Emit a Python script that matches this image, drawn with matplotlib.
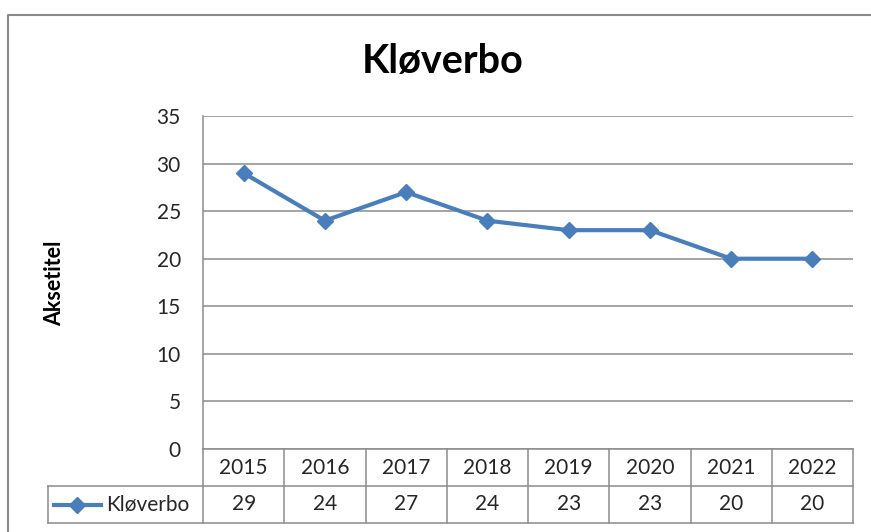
import matplotlib
matplotlib.use("Agg")
import matplotlib.pyplot as plt
from matplotlib.lines import Line2D

plt.rcParams['font.family'] = ['Lato', 'DejaVu Sans']

title = "Kløverbo"
series_name = "Kløverbo"
y_label = "Aksetitel"
years = ["2015", "2016", "2017", "2018", "2019", "2020", "2021", "2022"]
values = [29, 24, 27, 24, 23, 23, 20, 20]
y_ticks = [0, 5, 10, 15, 20, 25, 30, 35]

W, H = 871, 532
LINE = '#4A7EBB'
GRID = '#8C8C8C'
TXT = '#262626'
FS = 15

fig = plt.figure(figsize=(W / 100, H / 100), dpi=100)
fig.patch.set_facecolor('white')

def fx(x):
    return x / W

def fy(y):
    return 1 - y / H

# outer chart border
fig.add_artist(Line2D([fx(8), fx(8), fx(W + 5)], [fy(H + 5), fy(15), fy(15)],
                      color='#8A8A8A', lw=1.5, transform=fig.transFigure))

left, top, right, bottom = 203, 116, 853, 449
ax = fig.add_axes([fx(left), fy(bottom), (right - left) / W, (bottom - top) / H])
n = len(years)
xs = [i + 0.5 for i in range(n)]
ax.set_xlim(0, n)
ax.set_ylim(0, 35)
ax.set_yticks(y_ticks)
ax.set_yticklabels([str(t) for t in y_ticks], fontsize=FS, color=TXT)
ax.set_xticks([])
ax.tick_params(axis='y', length=0, pad=16)
for s in ['top', 'right', 'bottom']:
    ax.spines[s].set_visible(False)
ax.spines['left'].set_color(GRID)
ax.spines['left'].set_linewidth(1.1)
ax.grid(axis='y', color=GRID, lw=1.1)
ax.set_axisbelow(True)

ax.plot(xs, values, color=LINE, lw=3, marker='D', ms=8.5, mfc=LINE, mec=LINE,
        solid_joinstyle='round', clip_on=False, zorder=3)

fig.text(fx(443), fy(62), title, ha='center', va='center', fontsize=28.5,
         fontweight='bold', color='black')
fig.text(fx(55), fy(283), y_label, ha='center', va='center', rotation=90,
         fontsize=15.5, fontweight='bold', color='black')

# data table
tr = ax.get_xaxis_transform()
ah = bottom - top
row_h = 37 / ah
kw = dict(color=GRID, lw=1.1, transform=tr, clip_on=False)
ax.add_line(Line2D([0, n], [0, 0], **kw))
x_leg = (48 - left) / ((right - left) / n)
ax.add_line(Line2D([x_leg, n], [-row_h, -row_h], **kw))
ax.add_line(Line2D([x_leg, n], [-2 * row_h, -2 * row_h], **kw))
for k in range(n + 1):
    ax.add_line(Line2D([k, k], [0, -2 * row_h], **kw))
ax.add_line(Line2D([x_leg, x_leg], [-row_h, -2 * row_h], **kw))
for i in range(n):
    ax.text(i + 0.5, -0.5 * row_h, years[i], transform=tr, ha='center', va='center',
            fontsize=FS, color=TXT)
    ax.text(i + 0.5, -1.5 * row_h, str(values[i]), transform=tr, ha='center', va='center',
            fontsize=FS, color=TXT)

# legend key inside table
ppx = (right - left) / n
ky = -1.5 * row_h
ax.add_line(Line2D([(54 - left) / ppx, (101 - left) / ppx], [ky, ky], color=LINE, lw=3,
                   transform=tr, clip_on=False))
ax.add_line(Line2D([(77.5 - left) / ppx], [ky], color=LINE, marker='D', ms=8.5, mfc=LINE,
                   mec=LINE, transform=tr, clip_on=False))
ax.text((106 - left) / ppx, ky, series_name, transform=tr, ha='left', va='center',
        fontsize=FS, color=TXT)

fig.savefig('out.png', dpi=100)
